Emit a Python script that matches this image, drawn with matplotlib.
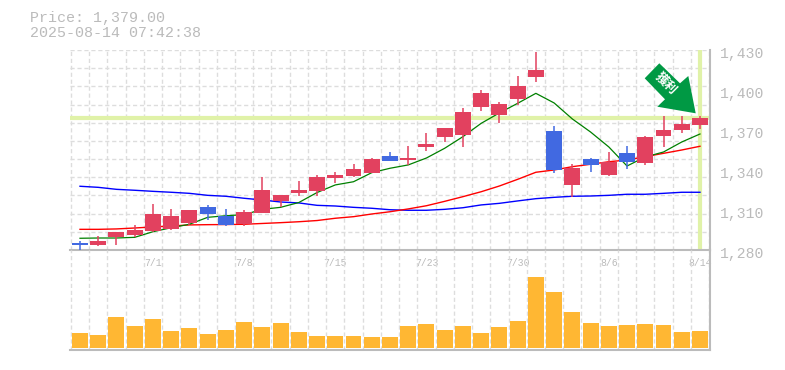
import matplotlib
matplotlib.use("Agg")
import matplotlib.pyplot as plt
import matplotlib.transforms as mtrans
from matplotlib.patches import Polygon
import numpy as np

W, H = 785, 370
title_price = "Price: 1,379.00"
title_time = "2025-08-14 07:42:38"
badge_text = "獲利"
date_pos = [4, 9, 14, 19, 24, 29, 34]
date_labels = ["7/1", "7/8", "7/15", "7/23", "7/30", "8/6", "8/14"]
price_ticks = [1280, 1310, 1340, 1370, 1400, 1430]
price_labels = ["1,280", "1,310", "1,340", "1,370", "1,400", "1,430"]
last_price = 1379

body_high = [1285.25,1286.75,1293.5,1295,1307,1305.5,1310,1312.25,1305.5,1308.5,1325,1321.25,1325,1334.75,1336.25,
             1340.75,1348.25,1350.5,1349,1359.5,1371.5,1383.5,1397.75,1389.5,1403,1415,1369.25,1341.5,1348.25,1346,
             1352.75,1364.75,1370,1374.5,1379]
body_low = [1283.75,1283.75,1289.75,1291.25,1294.25,1295.75,1300.25,1307,1298.75,1299.25,1307.75,1316.75,1322.75,1324.25,1334,
            1335.5,1337.75,1346.75,1347.5,1357.25,1364.75,1366.25,1387.25,1381.25,1393.25,1409.75,1340,1328.75,1343.75,1336.25,
            1346,1345.25,1365.5,1370,1373.75]
wick_high = [1286.5,1290.5,1293.5,1298.75,1314.5,1310.75,1310,1313.75,1310.75,1310,1334.75,1321.25,1331.75,1336.25,1338.5,
             1344.5,1349,1353.5,1358,1367.75,1371.5,1386.5,1400,1391,1410.5,1428.5,1373,1344.5,1349,1353.5,
             1358,1365.5,1380.5,1380.5,1380.5]
wick_low = [1279.5,1283,1283.75,1289.75,1293.5,1295,1298.75,1302.5,1298,1298,1307.75,1312,1320.5,1320.5,1330.25,
            1334.75,1337.75,1346.75,1343.75,1354.25,1361,1357.25,1384.25,1375.25,1388.75,1406,1337.75,1319.75,1338.5,1335.5,
            1340.75,1343.75,1357.25,1367.75,1370.75]
is_down = [1,0,0,0,0,0,0,1,1,0,0,0,0,0,0,0,0,1,0,0,0,0,0,0,0,0,1,0,1,0,1,0,0,0,0]

ma_short = [1288.8,1289,1289,1289.5,1293.7,1296.7,1299.3,1304.5,1305.7,1306.5,1310.5,1312,1315.6,1323.1,1328.8,
            1331.2,1338,1341.3,1343.8,1349,1356.3,1365,1375,1382.8,1390,1397.5,1390.3,1378.3,1368.5,1357.3,
            1343,1349.8,1353.5,1361,1367]
ma_mid = [1295.5,1295.5,1295.8,1296.5,1297.3,1298,1298.8,1299,1299.1,1299.3,1299.9,1300.5,1301.2,1302.1,1303.8,
          1305,1307,1308.7,1310.8,1313.2,1316.5,1320,1323.7,1328,1333,1338.3,1340,1342.5,1344.3,1346.2,
          1347.5,1350,1352.5,1355,1357.8]
ma_long = [1327.8,1327,1325.5,1324.8,1324,1323.3,1322.5,1321,1320.3,1318.8,1317.5,1316,1315.3,1313.5,1313,
           1312,1311.3,1310.2,1309.8,1309.8,1310.5,1311.7,1313.8,1315,1316.8,1318.5,1319.5,1320.3,1320.5,1321,
           1321.8,1321.8,1322.5,1323.3,1323.3]
volume = [15,13,31,22,29,17,20,14,18,26,21,25,16,12,12,12,11,11,22,24,18,22,15,21,27,71,56,36,25,22,23,24,23,16,17]

RED, BLUE = "#e2415f", "#4169e1"
GRID, FRAME, TEXT = "#dddddd", "#bbbbbb", "#bbbbbb"
HILITE = "#e0f2a8"
plt.rcParams["font.family"] = ["Liberation Mono", "Noto Sans CJK JP", "DejaVu Sans"]

fig = plt.figure(figsize=(W / 100, H / 100), dpi=100)
L, R = 70, 710
def rect(top, bottom):
    return [L / W, 1 - bottom / H, (R - L) / W, (bottom - top) / H]
ax = fig.add_axes(rect(50, 250))
av = fig.add_axes(rect(250, 350))

n = len(volume)
idx = np.arange(n)
xlim = (-0.548, 34.55)
dash = (0, (3, 2))
for a in (ax, av):
    a.set_xlim(*xlim)
    a.set_facecolor("none")
    a.set_xticks(np.arange(n + 1) - 0.5)
    a.tick_params(axis="both", which="both", length=0, labelbottom=False, labelleft=False)
    a.grid(axis="x", color=GRID, lw=1, ls=dash, zorder=0)
    a.set_axisbelow(True)
    for s in ("left", "top"):
        a.spines[s].set_visible(False)
    for s in ("right", "bottom"):
        a.spines[s].set_color(FRAME)
        a.spines[s].set_linewidth(1.5)

ax.set_ylim(1280, 1430)
for yv in np.linspace(1280, 1430, 12)[1:]:
    ax.axhline(yv, color=GRID, lw=1, ls=dash, zorder=0)

ax.axhline(last_price, color=HILITE, lw=3, zorder=1)
ax.axvline(idx[-1], color=HILITE, lw=3, zorder=1)

ax.plot(idx, ma_long, color="#0000ff", lw=1.0, zorder=2)
ax.plot(idx, ma_mid, color="#ff0000", lw=1.0, zorder=2)
ax.plot(idx, ma_short, color="#008000", lw=0.9, zorder=2)

colors = [BLUE if d else RED for d in is_down]
ax.vlines(idx, wick_low, wick_high, colors=colors, lw=1.1, zorder=3)
ax.bar(idx, np.array(body_high) - np.array(body_low), bottom=body_low, width=0.875, color=colors, lw=0, zorder=3)

av.set_ylim(-2, 98)
av.bar(idx, volume, width=0.875, color="#ffb733", lw=0, zorder=3)

# right-hand price labels, drawn about 3 px below their level
ax.yaxis.tick_right()
ax.set_yticks(price_ticks, price_labels)
ax.tick_params(axis="y", labelright=True, right=False, labelsize=10.6, labelcolor=TEXT, pad=7)
shift = mtrans.ScaledTranslation(0, -3 / 100, fig.dpi_scale_trans)
for lab in ax.get_yticklabels():
    lab.set_transform(lab.get_transform() + shift)

# date labels sit on candle centres, the gridlines between candles
ax.set_xticks(date_pos, date_labels, minor=True)
ax.tick_params(axis="x", which="minor", labelbottom=True, length=0, labelsize=7, labelcolor=TEXT, pad=6)
ax.grid(False, axis="x", which="minor")

fig.text(30 / W, 1 - 18 / H, title_price, color=TEXT, fontsize=10.8, va="center", ha="left")
fig.text(30 / W, 1 - 33 / H, title_time, color=TEXT, fontsize=10.8, va="center", ha="left")

# trend arrow, placed in figure pixels
pts = [(659.3, 63.3), (680, 83.3), (688.3, 76), (695.7, 113.3), (657.3, 106.7), (665, 99.3), (644.7, 78.3)]
fig.add_artist(Polygon([(x / W, 1 - y / H) for x, y in pts], closed=True, transform=fig.transFigure,
                       facecolor="#009944", edgecolor="none", zorder=6))
fig.text(666 / W, 1 - 84 / H, badge_text, color="white", fontsize=9, rotation=-45, rotation_mode="anchor",
         ha="center", va="center", fontweight="bold", zorder=7)

fig.savefig("out.png", dpi=100)
